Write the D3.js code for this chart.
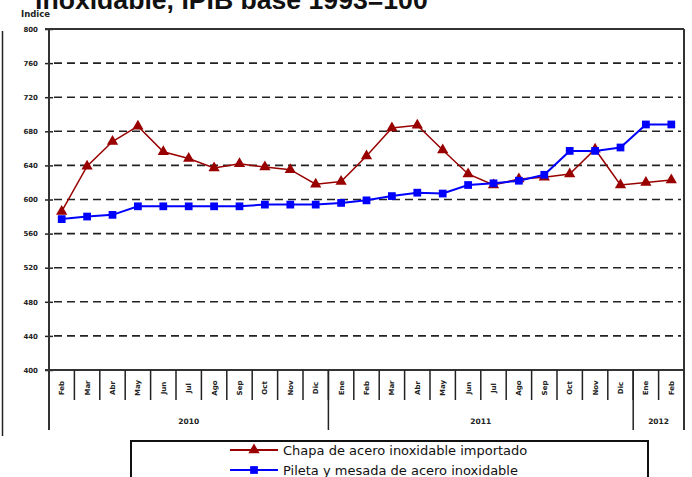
<!DOCTYPE html>
<html>
<head>
<meta charset="utf-8">
<script src="https://cdn.jsdelivr.net/npm/d3@7"></script>
<style>
  body { margin: 0; background: #fff; }
  svg { display: block; }
  text { font-family: "DejaVu Sans", Verdana, sans-serif; }
</style>
</head>
<body>
<svg id="chart" width="692" height="477"></svg>
<script>
// months from Feb 2010 to Feb 2012
const months = ["Feb", "Mar", "Abr", "May", "Jun", "Jul", "Ago", "Sep", "Oct", "Nov", "Dic",
  "Ene", "Feb", "Mar", "Abr", "May", "Jun", "Jul", "Ago", "Sep", "Oct", "Nov", "Dic",
  "Ene", "Feb"];
const years = [
  { label: "2010", from: 0, to: 11 },
  { label: "2011", from: 11, to: 23 },
  { label: "2012", from: 23, to: 25 }
];
const yTicks = [400, 440, 480, 520, 560, 600, 640, 680, 720, 760, 800];

const chapa = [586, 639, 668, 686, 656, 648, 637, 642, 638, 635, 618,
  621, 651, 684, 687, 658, 630, 617, 624, 626, 630, 659, 617,
  620, 623];
const pileta = [577, 580, 582, 592, 592, 592, 592, 592, 594, 594, 594,
  596, 599, 604, 608, 607, 617, 619, 622, 629, 657, 657, 661,
  688, 688];

const series = [
  { name: "Chapa de acero inoxidable importado", values: chapa, color: "#990000", symbol: d3.symbolTriangle, size: 55, width: 1.5 },
  { name: "Pileta y mesada de acero inoxidable", values: pileta, color: "#0000ff", symbol: d3.symbolSquare, size: 60, width: 2 }
];

const svg = d3.select("#chart");
const mLeft = 49, mRight = 684, mTop = 29, mBottom = 370;

const idx = months.map((m, i) => i);
const x = d3.scaleBand().domain(idx).range([mLeft, mRight]);
const y = d3.scaleLinear().domain([400, 800]).range([mBottom, mTop]);

// title, clipped at top edge; size it to the reference width
const title = svg.append("text")
  .attr("x", 35).attr("y", 9)
  .style("font-family", "'Liberation Sans', Arial, sans-serif")
  .attr("font-weight", "bold")
  .attr("font-size", 20)
  .attr("fill", "#111")
  .text("inoxidable, IPIB base 1993=100");
const tw = title.node().getComputedTextLength();
title.attr("font-size", 20 * 393 / tw);

svg.append("text")
  .attr("x", 21).attr("y", 17)
  .attr("font-size", 8.5).attr("font-weight", "bold")
  .attr("fill", "#222")
  .text("Indice");

// edge of a neighbouring chart on the far left
svg.append("line")
  .attr("x1", 2.5).attr("x2", 2.5).attr("y1", 31).attr("y2", 436)
  .attr("stroke", "#222").attr("stroke-width", 1.5);

// gridlines
svg.append("g")
  .selectAll("line")
  .data(yTicks.filter(t => t > 400 && t < 800))
  .join("line")
  .attr("x1", mLeft + 5).attr("x2", mRight - 3)
  .attr("y1", d => y(d)).attr("y2", d => y(d))
  .attr("stroke", "#222").attr("stroke-width", 1.6)
  .attr("stroke-dasharray", "8,5");

// y axis
const yAxis = svg.append("g")
  .attr("transform", `translate(${mLeft},0)`)
  .call(d3.axisLeft(y).tickValues(yTicks).tickSize(4).tickPadding(7))
  .call(g => g.select(".domain").remove());
yAxis.selectAll(".tick line").attr("x2", 4).attr("x1", -4).attr("stroke", "#222").attr("stroke-width", 1.5);
yAxis.selectAll(".tick text")
  .attr("font-size", 7).attr("font-weight", "bold")
  .attr("font-family", null).attr("fill", "#222");

// frame
const frame = svg.append("g").attr("stroke", "#333").attr("stroke-width", 2).attr("fill", "none");
frame.append("line").attr("x1", mLeft - 4).attr("x2", mRight).attr("y1", mTop).attr("y2", mTop);
frame.append("line").attr("x1", mLeft).attr("x2", mLeft).attr("y1", mTop).attr("y2", 430);
frame.append("line").attr("x1", mRight).attr("x2", mRight).attr("y1", mTop).attr("y2", 430);
frame.append("line").attr("x1", mLeft - 4).attr("x2", mRight).attr("y1", mBottom).attr("y2", mBottom);

// month separators
svg.append("g")
  .selectAll("line")
  .data(idx.slice(1))
  .join("line")
  .attr("x1", d => x(d)).attr("x2", d => x(d))
  .attr("y1", mBottom).attr("y2", 400)
  .attr("stroke", "#222").attr("stroke-width", 1.5);

// year separators
svg.append("g")
  .selectAll("line")
  .data(years.slice(1))
  .join("line")
  .attr("x1", d => x(d.from)).attr("x2", d => x(d.from))
  .attr("y1", mBottom).attr("y2", 430)
  .attr("stroke", "#222").attr("stroke-width", 1.5);

// month labels, rotated
svg.append("g")
  .selectAll("text")
  .data(idx)
  .join("text")
  .attr("transform", d => `translate(${x(d) + x.bandwidth() / 2 + 2.5},388) rotate(-90)`)
  .attr("text-anchor", "middle")
  .attr("font-size", 7).attr("font-weight", "bold")
  .attr("fill", "#222")
  .text(d => months[d]);

// year labels
svg.append("g")
  .selectAll("text")
  .data(years)
  .join("text")
  .attr("x", d => (x(d.from) + (d.to < months.length ? x(d.to) : mRight)) / 2)
  .attr("y", 424)
  .attr("text-anchor", "middle")
  .attr("font-size", 7.5).attr("font-weight", "bold")
  .attr("fill", "#222")
  .text(d => d.label);

// series lines and markers
const line = d3.line()
  .x((d, i) => x(i) + x.bandwidth() / 2)
  .y(d => y(d));

series.forEach(s => {
  svg.append("path")
    .datum(s.values)
    .attr("d", line)
    .attr("fill", "none")
    .attr("stroke", s.color)
    .attr("stroke-width", s.width);
  svg.append("g")
    .selectAll("path")
    .data(s.values)
    .join("path")
    .attr("transform", (d, i) => `translate(${x(i) + x.bandwidth() / 2},${y(d)})`)
    .attr("d", d3.symbol(s.symbol, s.size))
    .attr("fill", s.color);
});

// legend
const legend = svg.append("g");
legend.append("rect")
  .attr("x", 131).attr("y", 441)
  .attr("width", 517).attr("height", 60)
  .attr("fill", "#fff").attr("stroke", "#111").attr("stroke-width", 2);

series.forEach((s, i) => {
  const ly = 450 + i * 20;
  legend.append("line")
    .attr("x1", 230).attr("x2", 278).attr("y1", ly).attr("y2", ly)
    .attr("stroke", s.color).attr("stroke-width", 2);
  legend.append("path")
    .attr("transform", `translate(254,${ly})`)
    .attr("d", d3.symbol(s.symbol, s.size))
    .attr("fill", s.color);
  legend.append("text")
    .attr("x", 283).attr("y", ly + 5)
    .attr("font-size", 13)
    .attr("fill", "#111")
    .text(s.name);
});
</script>
</body>
</html>
